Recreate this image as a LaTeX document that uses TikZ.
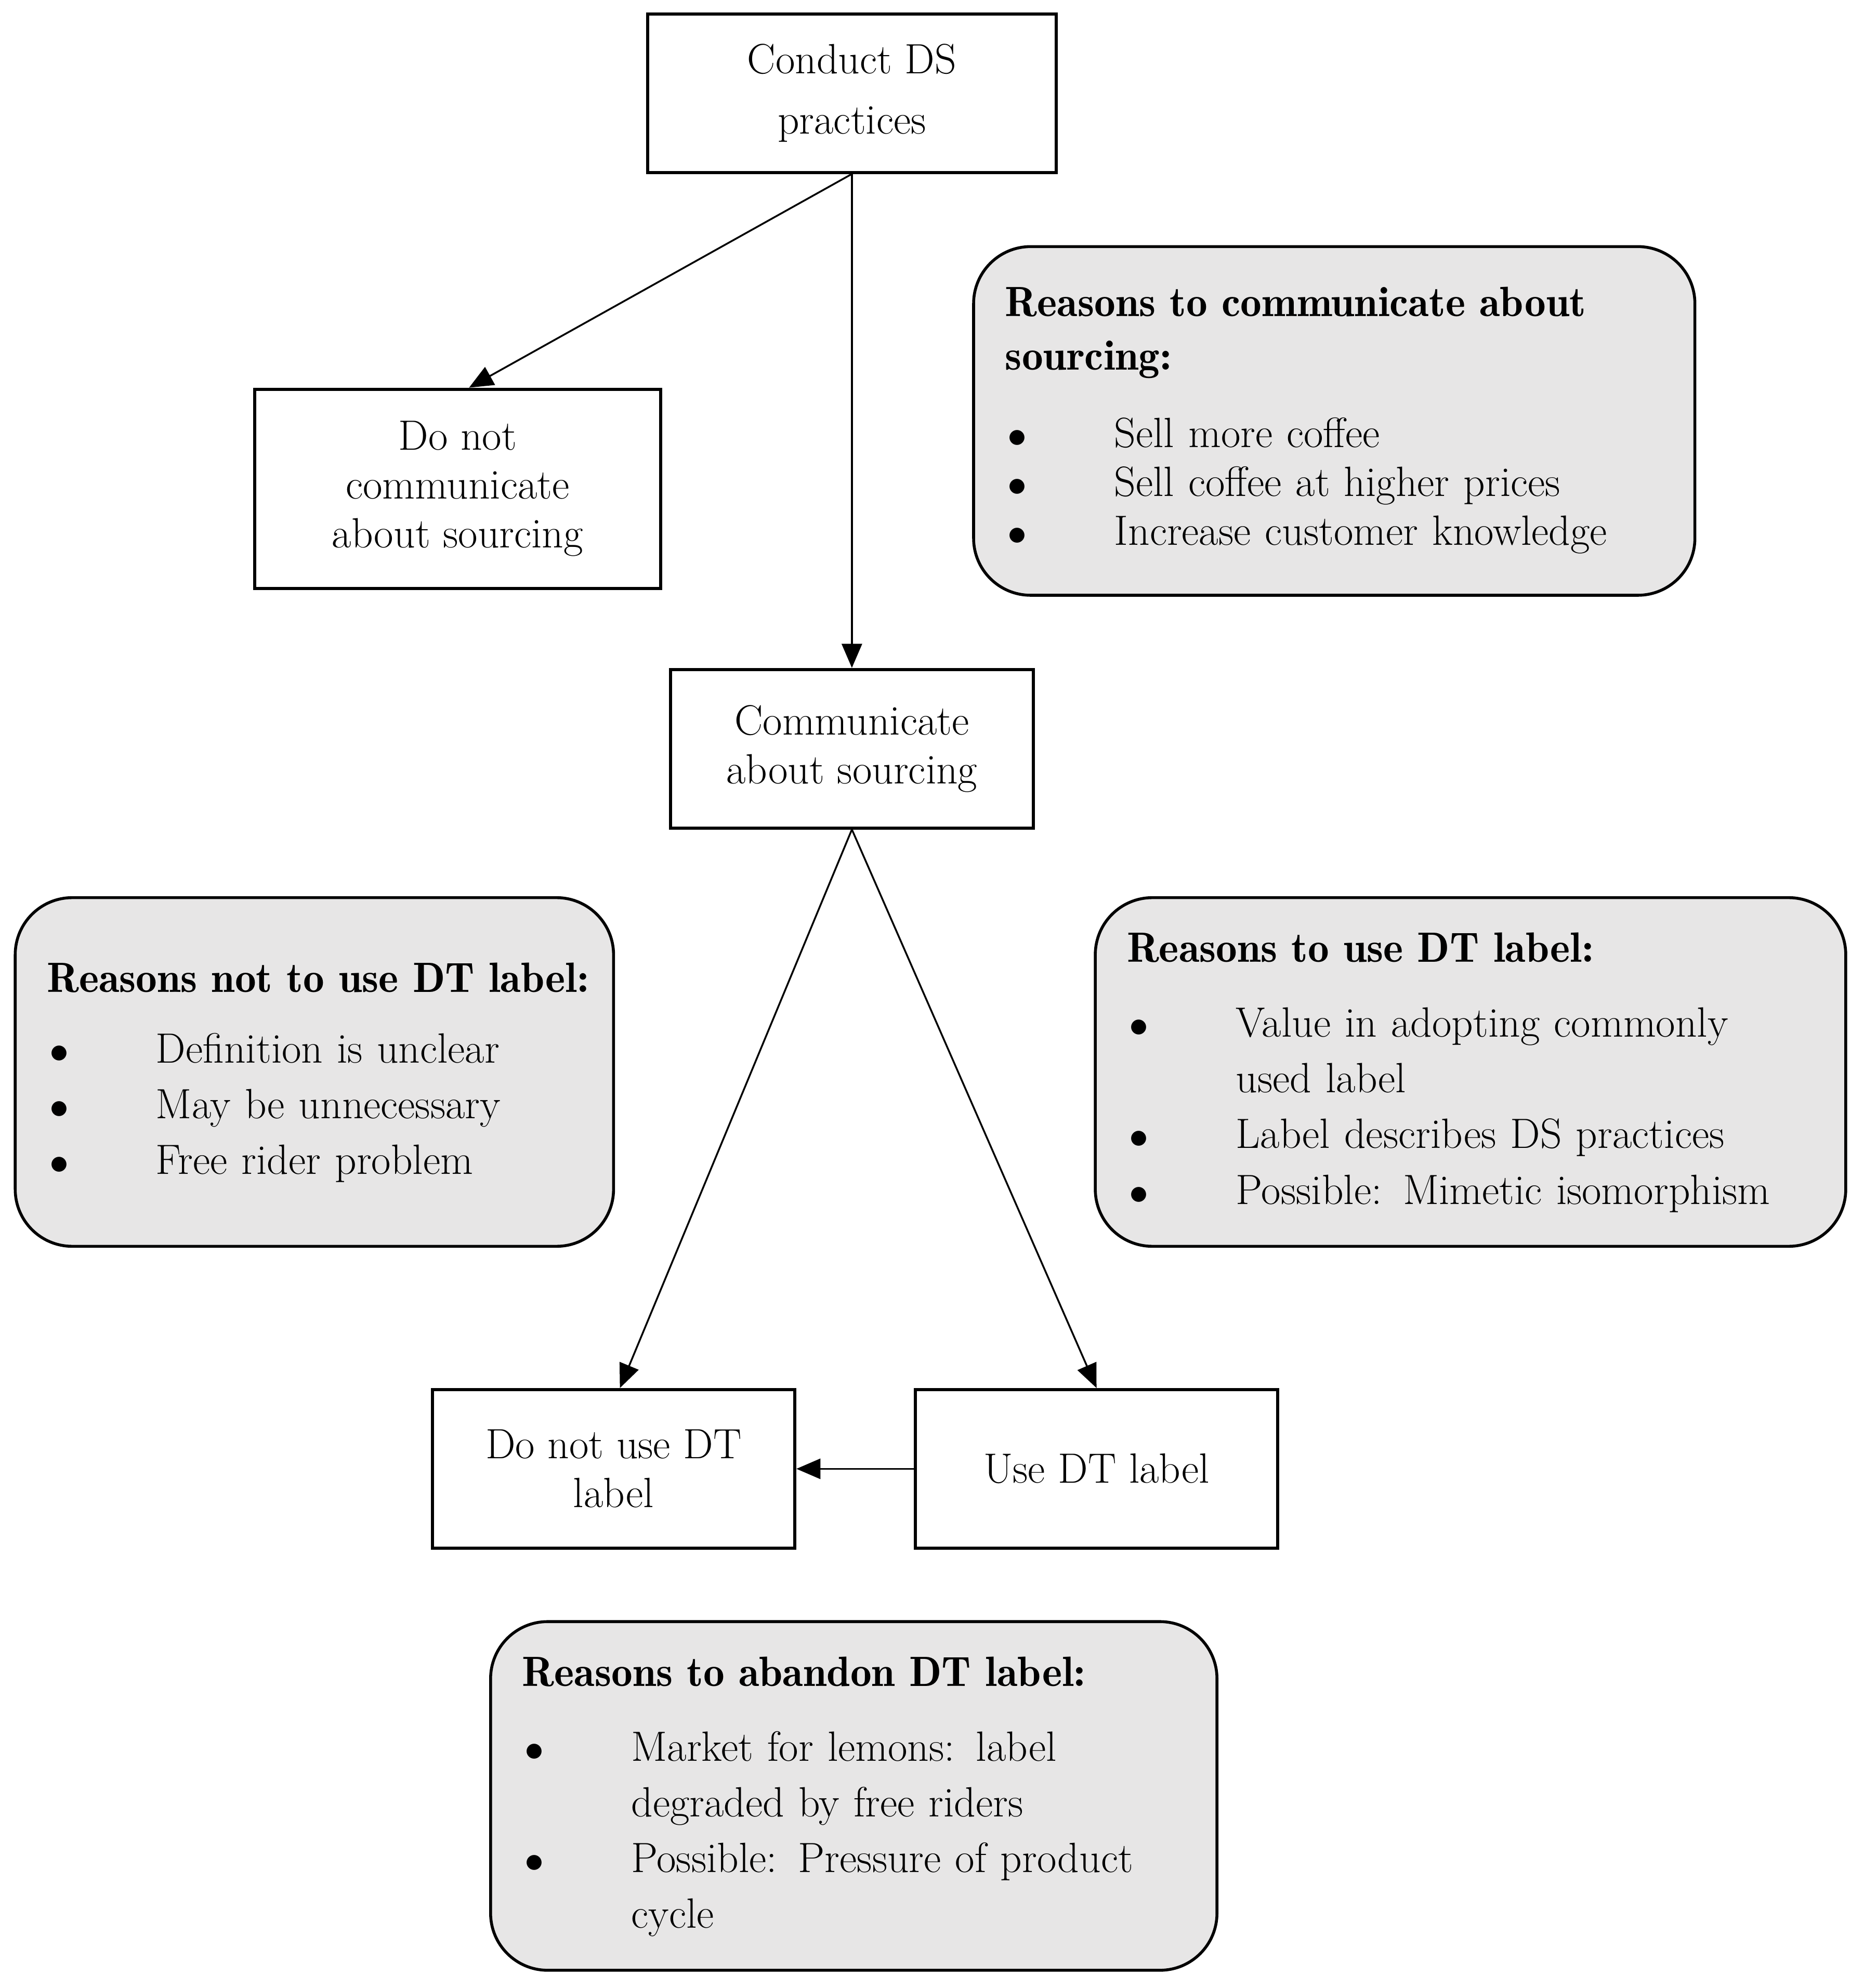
\documentclass[tikz,border=0pt]{standalone}
\usepackage{tikz}
\usetikzlibrary{positioning,arrows.meta}

\definecolor{boxgray}{RGB}{231,230,230}
\newcommand{\bul}{\hspace{0.04cm}$\bullet$}
\newcommand{\hd}{\fontseries{b}\selectfont}

\begin{document}
\begin{tikzpicture}[>={Triangle[length=0.38cm,width=0.32cm]},on grid,
    act/.style={draw,line width=1.4pt,align=center,minimum width=5.72cm,
      minimum height=2.5cm,inner sep=0pt,font=\fontsize{19}{22}\selectfont},
    why/.style={draw,line width=1.3pt,fill=boxgray,rounded corners=0.9cm,
      inner xsep=0.5cm,inner ysep=0pt,align=left,minimum height=5.5cm,
      text width=#1,font=\fontsize{19}{25}\selectfont},
    link/.style={->,line width=0.8pt}]
    \useasboundingbox (0,0) rectangle (29.4,-31.36);

    % decisions
    \node[act,minimum width=6.44cm,font=\fontsize{19}{27}\selectfont] (conduct) at (13.44,-1.47) {Conduct DS\\practices};
    \node[act,minimum width=6.4cm,minimum height=3.14cm] (nocomm) [below left=6.24cm and 6.22cm of conduct] {Do not\\communicate\\about sourcing};
    \node[act] (comm) [below=10.34cm of conduct] {Communicate\\about sourcing};
    \node[act] (nouse) [below left=11.36cm and 3.76cm of comm] {Do not use DT\\label};
    \node[act] (use) [right=7.62cm of nouse] {Use DT label};

    % reasons
    \node[why=10.38cm,font=\fontsize{19}{22}\selectfont] (rcomm) at (21.05,-6.64) {%
      \begin{tabular}{@{}p{1.72cm}@{}l@{}}
        \multicolumn{2}{@{}l@{}}{\hd Reasons to communicate about}\\[2pt]
        \multicolumn{2}{@{}l@{}}{\hd sourcing:}\\[0.45cm]
        \bul & Sell more coffee\\
        \bul & Sell coffee at higher prices\\
        \bul & Increase customer knowledge
      \end{tabular}};
    \node[why=8.44cm] (rnot) at (4.96,-16.91) {%
      \begin{tabular}{@{}p{1.72cm}@{}l@{}}
        \multicolumn{2}{@{}l@{}}{\hd Reasons not to use DT label:}\\[0.24cm]
        \bul & Definition is unclear\\
        \bul & May be unnecessary\\
        \bul & Free rider problem
      \end{tabular}};
    \node[why=10.84cm] (ruse) at (23.2,-16.91) {%
      \begin{tabular}{@{}p{1.72cm}@{}l@{}}
        \multicolumn{2}{@{}l@{}}{\hd Reasons to use DT label:}\\[0.3cm]
        \bul & Value in adopting commonly\\
             & used label\\
        \bul & Label describes DS practices\\
        \bul & Possible: Mimetic isomorphism
      \end{tabular}};
    \node[why=10.46cm] (raband) at (13.47,-28.33) {%
      \begin{tabular}{@{}p{1.72cm}@{}l@{}}
        \multicolumn{2}{@{}l@{}}{\hd Reasons to abandon DT label:}\\[0.3cm]
        \bul & Market for lemons: label\\
             & degraded by free riders\\
        \bul & Possible: Pressure of product\\
             & cycle
      \end{tabular}};

    \draw[link] (conduct.south) -- ([xshift=0.18cm]nocomm.north);
    \draw[link] (conduct.south) -- (comm.north);
    \draw[link] (comm.south) -- ([xshift=0.1cm]nouse.north);
    \draw[link] (comm.south) -- (use.north);
    \draw[link] (use.west) -- (nouse.east);
\end{tikzpicture}
\end{document}
